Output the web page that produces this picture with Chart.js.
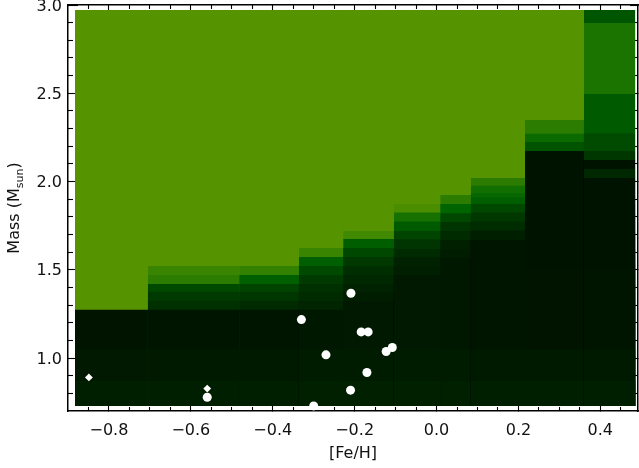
<!DOCTYPE html>
<html>
<head>
<meta charset="utf-8">
<script src="https://cdn.jsdelivr.net/npm/chart.js@4/dist/chart.umd.min.js"></script>
<style>
  html, body { margin: 0; padding: 0; background: #ffffff; }
  #wrap { width: 639px; height: 468px; position: relative; }
</style>
</head>
<body>
<div id="wrap"><canvas id="c" width="639" height="468"></canvas></div>
<script>
// ---------------- data ----------------
// [Fe/H] edges of the model-grid columns
const feEdges = [-0.883, -0.705, -0.482, -0.336, -0.228, -0.104, 0.009, 0.084, 0.216, 0.360, 0.485];
// mass extent of the grid
const massBottom = 0.728;
const massTop = 2.972;
// for each column: upper mass of each band (top to bottom)
const bandTops = [
  [2.972, 1.273, 1.05, 0.87],
  [2.972, 1.522, 1.471, 1.420, 1.375, 1.324, 1.273, 1.05, 0.87],
  [2.972, 1.522, 1.471, 1.420, 1.375, 1.324, 1.273, 1.05, 0.87],
  [2.972, 1.624, 1.573, 1.522, 1.471, 1.420, 1.371, 1.322, 1.273, 1.05, 0.87],
  [2.972, 1.720, 1.675, 1.624, 1.573, 1.522, 1.471, 1.420, 1.371, 1.322, 1.05, 0.87],
  [2.972, 1.873, 1.824, 1.773, 1.720, 1.673, 1.618, 1.571, 1.518, 1.471, 1.05, 0.87],
  [2.972, 1.924, 1.873, 1.820, 1.770, 1.720, 1.669, 1.618, 1.567, 1.05, 0.87],
  [2.972, 2.020, 1.976, 1.933, 1.910, 1.873, 1.824, 1.773, 1.722, 1.669, 1.05, 0.87],
  [2.972, 2.349, 2.270, 2.224, 2.173, 1.5, 1.05, 0.87],
  [2.972, 2.898, 2.496, 2.273, 2.173, 2.122, 2.071, 2.020, 1.5, 1.05, 0.87]
];
// for each column: the cell value of each band (0 = darkest, 1 = lightest)
const bandVals = [
  [1.00, 0.05, 0.09, 0.13],
  [1.00, 0.90, 0.85, 0.49, 0.36, 0.28, 0.06, 0.10, 0.14],
  [1.00, 0.88, 0.67, 0.44, 0.33, 0.24, 0.06, 0.10, 0.14],
  [1.00, 0.90, 0.66, 0.49, 0.36, 0.28, 0.23, 0.19, 0.08, 0.11, 0.15],
  [1.00, 0.93, 0.65, 0.46, 0.34, 0.26, 0.21, 0.16, 0.12, 0.09, 0.11, 0.15],
  [1.00, 0.96, 0.78, 0.63, 0.44, 0.31, 0.23, 0.16, 0.13, 0.09, 0.11, 0.15],
  [1.00, 0.85, 0.70, 0.46, 0.31, 0.23, 0.15, 0.12, 0.08, 0.11, 0.15],
  [1.00, 0.85, 0.76, 0.72, 0.64, 0.46, 0.34, 0.25, 0.14, 0.06, 0.10, 0.14],
  [1.00, 0.85, 0.74, 0.57, 0.03, 0.05, 0.10, 0.14],
  [0.58, 0.80, 0.62, 0.50, 0.33, 0.03, 0.21, 0.04, 0.06, 0.10, 0.14]
];
// stars (circles)
const starFe   = [-0.209, -0.330, -0.184, -0.167, -0.108, -0.123, -0.270, -0.170, -0.210, -0.300, -0.560];
const starMass = [ 1.367,  1.218,  1.148,  1.148,  1.060,  1.037,  1.018,  0.918,  0.818,  0.729,  0.778];
// stars (diamonds)
const diaFe   = [-0.849, -0.560];
const diaMass = [ 0.890,  0.827];
// axis ticks
const xMajorTicks = [-0.8, -0.6, -0.4, -0.2, 0.0, 0.2, 0.4];
const yMajorTicks = [1.0, 1.5, 2.0, 2.5, 3.0];
const xRange = [-0.9, 0.492];
const yRange = [0.7, 3.0];

// ---------------- helpers ----------------
function cmap(t) {
  if (t <= 0.7) {
    const g = Math.round(14 + 86 * t / 0.7);
    return 'rgb(0,' + g + ',0)';
  }
  const u = (t - 0.7) / 0.3;
  return 'rgb(' + Math.round(85 * u) + ',' + Math.round(100 + 48 * u) + ',0)';
}
function minorList(lo, hi, step, majors) {
  const out = [];
  const n = Math.round((hi - lo) / step);
  for (let i = 0; i <= n; i++) {
    const v = +(lo + i * step).toFixed(4);
    if (!majors.some(m => Math.abs(m - v) < 1e-6)) out.push(v);
  }
  return out;
}
const xMinorTicks = minorList(-0.85, 0.45, 0.05, xMajorTicks);
const yMinorTicks = minorList(0.8, 2.9, 0.1, yMajorTicks);
const fmt = v => (v < 0 ? '\u2212' + Math.abs(v).toFixed(1) : v.toFixed(1));

// heatmap bands, in drawing order (left to right, top to bottom); each band
// is filled from its top down to the grid bottom and over to the grid's right edge,
// later bands paint over earlier ones
const xRight = feEdges[feEdges.length - 1];
const seq = [];
for (let c = 0; c < bandTops.length; c++) {
  for (let s = 0; s < bandTops[c].length; s++) {
    seq.push({
      type: 'line',
      data: [{x: feEdges[c], y: bandTops[c][s]}, {x: xRight, y: bandTops[c][s]}],
      fill: {value: massBottom},
      backgroundColor: cmap(bandVals[c][s]),
      borderColor: 'rgba(0,0,0,0)',
      borderWidth: 0,
      pointRadius: 0,
      pointHoverRadius: 0
    });
  }
}
// Chart.js paints the last dataset first
const heatDatasets = seq.reverse();

const pointDatasets = [
  {
    type: 'scatter',
    data: starFe.map((x, i) => ({x: x, y: starMass[i]})),
    pointStyle: 'circle',
    pointRadius: 4.5,
    pointBackgroundColor: '#ffffff',
    pointBorderWidth: 0,
    borderWidth: 0
  },
  {
    type: 'scatter',
    data: diaFe.map((x, i) => ({x: x, y: diaMass[i]})),
    pointStyle: 'rectRot',
    pointRadius: 3.9,
    pointBackgroundColor: '#ffffff',
    pointBorderWidth: 0,
    borderWidth: 0
  }
];

const tickFont = {family: 'DejaVu Sans', size: 16};
const ink = '#111111';

function baseGrid(len) {
  return {drawOnChartArea: false, drawTicks: true, tickLength: len, tickColor: '#000', tickWidth: 1.1, color: '#000'};
}

const scales = {
  x: {
    type: 'linear', position: 'bottom', min: xRange[0], max: xRange[1], weight: 1,
    afterBuildTicks: s => { s.ticks = xMajorTicks.map(v => ({value: v})); },
    afterFit: s => { s.height = 57; s.paddingLeft = 0; s.paddingRight = 0; },
    grid: baseGrid(-8),
    border: {display: true, color: '#000', width: 1.5},
    ticks: {font: tickFont, color: ink, padding: 18, maxRotation: 0, autoSkip: false, callback: v => fmt(v)},
    title: {display: true, text: '[Fe/H]', font: tickFont, color: ink, padding: {top: 0, bottom: 5}}
  },
  xMinor: {
    type: 'linear', position: 'bottom', min: xRange[0], max: xRange[1], weight: 0,
    afterBuildTicks: s => { s.ticks = xMinorTicks.map(v => ({value: v})); },
    afterFit: s => { s.height = 0; s.paddingLeft = 0; s.paddingRight = 0; },
    grid: baseGrid(-4),
    border: {display: false},
    ticks: {display: false}
  },
  xTop: {
    type: 'linear', position: 'top', min: xRange[0], max: xRange[1], weight: 1,
    afterBuildTicks: s => { s.ticks = xMajorTicks.map(v => ({value: v})); },
    afterFit: s => { s.height = 0; s.paddingLeft = 0; s.paddingRight = 0; },
    grid: baseGrid(-8),
    border: {display: true, color: '#000', width: 1.5},
    ticks: {display: false}
  },
  xTopMinor: {
    type: 'linear', position: 'top', min: xRange[0], max: xRange[1], weight: 0,
    afterBuildTicks: s => { s.ticks = xMinorTicks.map(v => ({value: v})); },
    afterFit: s => { s.height = 0; s.paddingLeft = 0; s.paddingRight = 0; },
    grid: baseGrid(-4),
    border: {display: false},
    ticks: {display: false}
  },
  y: {
    type: 'linear', position: 'left', min: yRange[0], max: yRange[1], weight: 1,
    afterBuildTicks: s => { s.ticks = yMajorTicks.map(v => ({value: v})); },
    afterFit: s => { s.width = 68; s.paddingTop = 0; s.paddingBottom = 0; },
    grid: baseGrid(-10),
    border: {display: true, color: '#000', width: 1.5},
    ticks: {font: tickFont, color: ink, padding: 16, labelOffset: 1.5, autoSkip: false, callback: v => fmt(v)}
  },
  yMinor: {
    type: 'linear', position: 'left', min: yRange[0], max: yRange[1], weight: 0,
    afterBuildTicks: s => { s.ticks = yMinorTicks.map(v => ({value: v})); },
    afterFit: s => { s.width = 0; s.paddingTop = 0; s.paddingBottom = 0; },
    grid: baseGrid(-5),
    border: {display: false},
    ticks: {display: false}
  },
  yRight: {
    type: 'linear', position: 'right', min: yRange[0], max: yRange[1], weight: 1,
    afterBuildTicks: s => { s.ticks = yMajorTicks.map(v => ({value: v})); },
    afterFit: s => { s.width = 0; s.paddingTop = 0; s.paddingBottom = 0; },
    grid: baseGrid(-8),
    border: {display: true, color: '#000', width: 1.5},
    ticks: {display: false}
  },
  yRightMinor: {
    type: 'linear', position: 'right', min: yRange[0], max: yRange[1], weight: 0,
    afterBuildTicks: s => { s.ticks = yMinorTicks.map(v => ({value: v})); },
    afterFit: s => { s.width = 0; s.paddingTop = 0; s.paddingBottom = 0; },
    grid: baseGrid(-4),
    border: {display: false},
    ticks: {display: false}
  }
};

// y-axis title with a subscript
const yTitlePlugin = {
  id: 'yTitle',
  afterDraw(chart) {
    const ctx = chart.ctx;
    const main = '16px "DejaVu Sans"';
    const sub = '11px "DejaVu Sans"';
    const parts = [['Mass (M', main, 0], ['sun', sub, 4], [')', main, 0]];
    ctx.save();
    let total = 0;
    parts.forEach(p => { ctx.font = p[1]; total += ctx.measureText(p[0]).width; });
    const cy = 208;
    ctx.translate(18.5, cy);
    ctx.rotate(-Math.PI / 2);
    ctx.fillStyle = ink;
    ctx.textBaseline = 'alphabetic';
    ctx.textAlign = 'left';
    let x = -total / 2;
    parts.forEach(p => {
      ctx.font = p[1];
      ctx.fillText(p[0], x, p[2]);
      x += ctx.measureText(p[0]).width;
    });
    ctx.restore();
  }
};

new Chart(document.getElementById('c'), {
  type: 'scatter',
  data: {datasets: pointDatasets.concat(heatDatasets)},
  options: {
    responsive: false,
    animation: false,
    events: [],
    layout: {autoPadding: false, padding: {top: 5, right: 1, left: 0, bottom: 0}},
    plugins: {legend: {display: false}, tooltip: {enabled: false}},
    scales: scales
  },
  plugins: [yTitlePlugin]
});
</script>
</body>
</html>
